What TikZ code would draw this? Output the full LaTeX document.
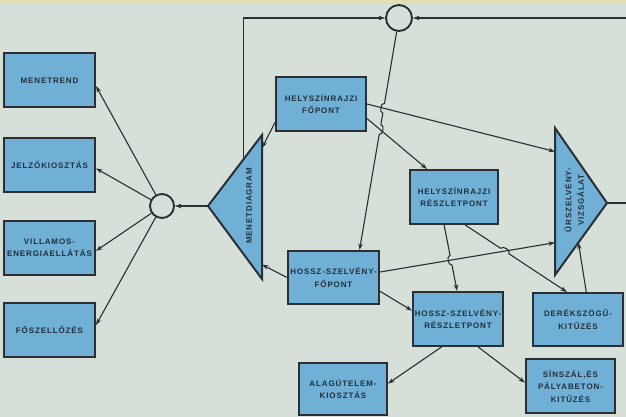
\documentclass[tikz,border=0pt]{standalone}
\usepackage{fontspec}
\newfontfamily\lblfamily{Liberation Sans}[LetterSpace=11]
\usetikzlibrary{arrows.meta,calc,intersections}
\definecolor{bgc}{HTML}{D6E0D8}
\definecolor{stripc}{HTML}{E2DFB4}
\definecolor{boxc}{HTML}{70B0D6}
\definecolor{linec}{HTML}{2A2F34}
\definecolor{txtc}{HTML}{22303A}
\tikzset{
  arr/.style={-{Stealth[length=6.5pt,width=4.5pt]}, line width=1.1pt, draw=linec},
  lbl/.style={text=txtc, align=center,
              font=\lblfamily\bfseries\fontsize{8}{12.5}\selectfont},
  box/.style={lbl, draw=linec, line width=2pt, fill=boxc, inner sep=0pt,
              minimum width=90pt, minimum height=54pt},
  junc/.style={circle, draw=linec, line width=1.9pt, inner sep=0pt,
               minimum size=24pt},
  tri/.style={draw=linec, line width=2pt, fill=boxc, line join=miter},
}

\begin{document}
\begin{tikzpicture}[x=1pt,y=-1pt]
\useasboundingbox (0,0) rectangle (626,417);
\fill[bgc] (0,0) rectangle (626,417);
\fill[stripc] (0,0) rectangle (626,3);
% triangles
\coordinate (md-l) at (208,206);
\coordinate (md-t) at (262,135);
\coordinate (md-b) at (262,279);
\draw[tri] (md-l) -- (md-t) -- (md-b) -- cycle;
\node[lbl, rotate=90] (md) at (249,206) {MENETDIAGRAM};
\coordinate (ur-t) at (555,128);
\coordinate (ur-b) at (555,275);
\coordinate (ur-r) at (607,203);
\draw[tri] (ur-t) -- (ur-r) -- (ur-b) -- cycle;
\node[lbl, rotate=90] (ur) at (574,200) {ŰRSZELVÉNY-\\VIZSGÁLAT};
% boxes
\node[box, minimum width=91pt] (m1) at (49.5,80.5)  {MENETREND};
\node[box, minimum width=91pt] (m2) at (49.5,164.5) {JELZŐKIOSZTÁS};
\node[box, minimum width=91pt] (m3) at (49.5,247.5) {VILLAMOS-\\ENERGIAELLÁTÁS};
\node[box, minimum width=91pt] (m4) at (49.5,329.5) {FŐSZELLŐZÉS};
\node[box] (hf)  at (321,104)   {HELYSZÍNRAJZI\\FŐPONT};
\node[box, minimum width=88pt] (hr)  at (454,197)   {HELYSZÍNRAJZI\\RÉSZLETPONT};
\node[box, minimum width=91pt, minimum height=53pt] (hsf) at (333.5,277.5) {HOSSZ-SZELVÉNY-\\FŐPONT};
\node[box] (hsr) at (458,319)   {HOSSZ-SZELVÉNY-\\RÉSZLETPONT};
\node[box, minimum height=53pt] (dk)  at (578,319.5) {DERÉKSZÖGŰ-\\KITŰZÉS};
\node[box, minimum width=88pt, minimum height=52pt] (al)  at (343,389)   {ALAGÚTELEM-\\KIOSZTÁS};
\node[box, minimum width=89pt] (ss)  at (570.5,386) {SÍNSZÁL,ÉS\\PÁLYABETON-\\KITŰZÉS};
% junctions
\node[junc] (lc) at (162,206) {};
\node[junc, minimum size=26pt] (tc) at (399,18) {};
% connector ends
\coordinate (m1-in) at ($(m1.north east)!0.6!(m1.south east)$);
\coordinate (m2-in) at ($(m2.north east)!0.57!(m2.south east)$);
\coordinate (m3-in) at ($(m3.north east)!0.56!(m3.south east)$);
\coordinate (m4-in) at ($(m4.north east)!0.42!(m4.south east)$);
\coordinate (md-up)  at ($(md-l)!0.65!(md-t)$);
\coordinate (md-in1) at ($(md-t)!0.09!(md-b)$);
\coordinate (md-in2) at ($(md-t)!0.9!(md-b)$);
\coordinate (hf-out) at ($(hf.north west)!0.83!(hf.south west)$);
\coordinate (hf-out2) at ($(hf.north east)!0.76!(hf.south east)$);
\coordinate (ur-in1) at ($(ur-t)!0.16!(ur-b)$);
\coordinate (ur-in2) at ($(ur-t)!0.78!(ur-b)$);
\coordinate (ur-in3) at ($(ur-r)!0.55!(ur-b)$);
\coordinate (hr-in)  at ($(hr.north west)!0.2!(hr.north east)$);
\coordinate (hr-out1) at ($(hr.south west)!0.39!(hr.south east)$);
\coordinate (hr-out2) at ($(hr.south west)!0.625!(hr.south east)$);
\coordinate (hsf-in)  at ($(hsf.north west)!0.78!(hsf.north east)$);
\coordinate (hsf-out1) at ($(hsf.north east)!0.4!(hsf.south east)$);
\coordinate (hsf-out2) at ($(hsf.north east)!0.75!(hsf.south east)$);
\coordinate (hsr-in1) at ($(hsr.north west)!0.49!(hsr.north east)$);
\coordinate (hsr-in2) at ($(hsr.north west)!0.35!(hsr.south west)$);
\coordinate (hsr-out1) at ($(hsr.south west)!0.32!(hsr.south east)$);
\coordinate (hsr-out2) at ($(hsr.south west)!0.72!(hsr.south east)$);
\coordinate (dk-in)  at ($(dk.north west)!0.38!(dk.north east)$);
\coordinate (dk-out) at ($(dk.north west)!0.59!(dk.north east)$);
\coordinate (al-in)  at ($(al.north east)!0.4!(al.south east)$);
\coordinate (ss-in)  at ($(ss.north west)!0.44!(ss.south west)$);
\coordinate (rc) at (640,203);
% plain connectors
\draw[arr] (lc) -- (m1-in);
\draw[arr] (lc) -- (m2-in);
\draw[arr] (lc) -- (m3-in);
\draw[arr] (lc) -- (m4-in);
\draw[arr] (md-l) -- (lc);
\draw[arr] (hf-out) -- (md-in1);
\draw[arr] (hsf.west) -- (md-in2);
\draw[arr] (md-up) |- (tc);
\draw[arr] (ur-r) -- (rc) |- (tc);
\draw[arr, name path=li] (hf.east) -- (ur-in1);
\draw[arr, name path=lj] (hf-out2) -- (hr-in);
\draw[arr, name path=ll] (hsf-out1) -- (ur-in2);
\draw[arr] (dk-out) -- (ur-in3);
\draw[arr] (hsf-out2) -- (hsr-in2);
\draw[arr] (hsr-out1) -- (al-in);
\draw[arr] (hsr-out2) -- (ss-in);
% connectors that hop over others
\path[name path=lk] (tc) -- (hsf-in);
\path[name path=lm] (hr-out1) -- (hsr-in1);
\path[name path=ln] (hr-out2) -- (dk-in);
\path[name intersections={of=lk and li, by=xa}];
\path[name intersections={of=lk and lj, by=xb}];
\path[name intersections={of=lm and ll, by=xc}];
\path[name intersections={of=ln and ll, by=xd}];
\draw[arr] (tc) -- ($(xa)!5pt!(tc)$) to[bend right=90] ($(xa)!5pt!(hsf-in)$)
  -- ($(xb)!5pt!(tc)$) to[bend left=90] ($(xb)!5pt!(hsf-in)$) -- (hsf-in);
\draw[arr] (hr-out1) -- ($(xc)!5pt!(hr-out1)$) to[bend right=90] ($(xc)!5pt!(hsr-in1)$) -- (hsr-in1);
\draw[arr] (hr-out2) -- ($(xd)!5pt!(hr-out2)$) to[bend left=90] ($(xd)!5pt!(dk-in)$) -- (dk-in);
\end{tikzpicture}
\end{document}
